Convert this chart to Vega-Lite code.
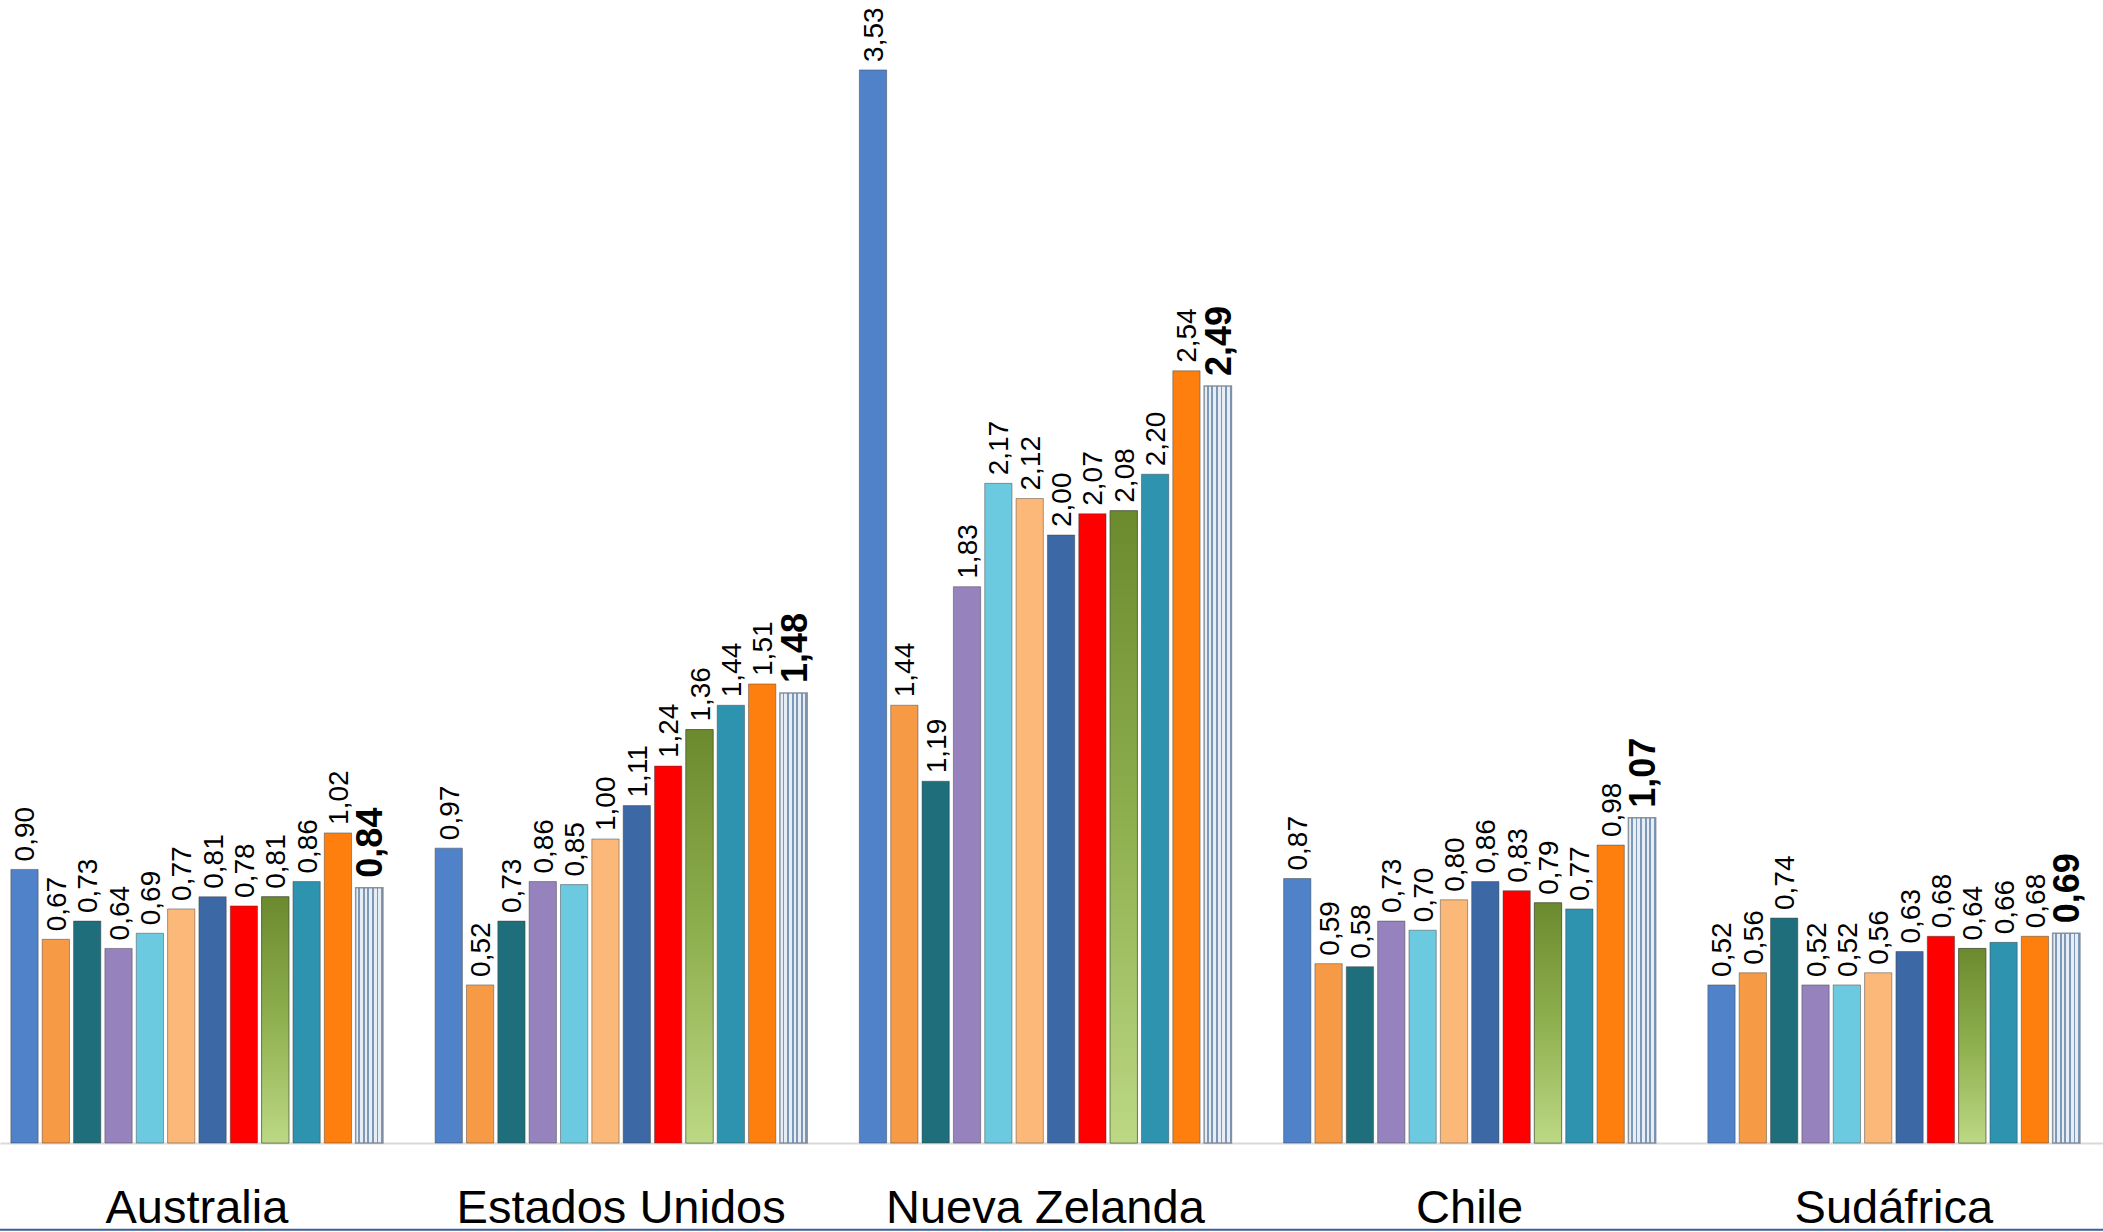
{
  "$schema": "https://vega.github.io/schema/vega-lite/v6.json",
  "width": 2103,
  "height": 1143,
  "autosize": {"type": "none"},
  "padding": {"left": 0, "top": 0, "right": 0, "bottom": 89},
  "background": "white",
  "config": {"view": {"stroke": null}},
  "data": {"values": [
    {"pais": "Australia", "serie": "S01", "valor": 0.90},
    {"pais": "Australia", "serie": "S02", "valor": 0.67},
    {"pais": "Australia", "serie": "S03", "valor": 0.73},
    {"pais": "Australia", "serie": "S04", "valor": 0.64},
    {"pais": "Australia", "serie": "S05", "valor": 0.69},
    {"pais": "Australia", "serie": "S06", "valor": 0.77},
    {"pais": "Australia", "serie": "S07", "valor": 0.81},
    {"pais": "Australia", "serie": "S08", "valor": 0.78},
    {"pais": "Australia", "serie": "S09", "valor": 0.81},
    {"pais": "Australia", "serie": "S10", "valor": 0.86},
    {"pais": "Australia", "serie": "S11", "valor": 1.02},
    {"pais": "Australia", "serie": "S12", "valor": 0.84},
    {"pais": "Estados Unidos", "serie": "S01", "valor": 0.97},
    {"pais": "Estados Unidos", "serie": "S02", "valor": 0.52},
    {"pais": "Estados Unidos", "serie": "S03", "valor": 0.73},
    {"pais": "Estados Unidos", "serie": "S04", "valor": 0.86},
    {"pais": "Estados Unidos", "serie": "S05", "valor": 0.85},
    {"pais": "Estados Unidos", "serie": "S06", "valor": 1.00},
    {"pais": "Estados Unidos", "serie": "S07", "valor": 1.11},
    {"pais": "Estados Unidos", "serie": "S08", "valor": 1.24},
    {"pais": "Estados Unidos", "serie": "S09", "valor": 1.36},
    {"pais": "Estados Unidos", "serie": "S10", "valor": 1.44},
    {"pais": "Estados Unidos", "serie": "S11", "valor": 1.51},
    {"pais": "Estados Unidos", "serie": "S12", "valor": 1.48},
    {"pais": "Nueva Zelanda", "serie": "S01", "valor": 3.53},
    {"pais": "Nueva Zelanda", "serie": "S02", "valor": 1.44},
    {"pais": "Nueva Zelanda", "serie": "S03", "valor": 1.19},
    {"pais": "Nueva Zelanda", "serie": "S04", "valor": 1.83},
    {"pais": "Nueva Zelanda", "serie": "S05", "valor": 2.17},
    {"pais": "Nueva Zelanda", "serie": "S06", "valor": 2.12},
    {"pais": "Nueva Zelanda", "serie": "S07", "valor": 2.00},
    {"pais": "Nueva Zelanda", "serie": "S08", "valor": 2.07},
    {"pais": "Nueva Zelanda", "serie": "S09", "valor": 2.08},
    {"pais": "Nueva Zelanda", "serie": "S10", "valor": 2.20},
    {"pais": "Nueva Zelanda", "serie": "S11", "valor": 2.54},
    {"pais": "Nueva Zelanda", "serie": "S12", "valor": 2.49},
    {"pais": "Chile", "serie": "S01", "valor": 0.87},
    {"pais": "Chile", "serie": "S02", "valor": 0.59},
    {"pais": "Chile", "serie": "S03", "valor": 0.58},
    {"pais": "Chile", "serie": "S04", "valor": 0.73},
    {"pais": "Chile", "serie": "S05", "valor": 0.70},
    {"pais": "Chile", "serie": "S06", "valor": 0.80},
    {"pais": "Chile", "serie": "S07", "valor": 0.86},
    {"pais": "Chile", "serie": "S08", "valor": 0.83},
    {"pais": "Chile", "serie": "S09", "valor": 0.79},
    {"pais": "Chile", "serie": "S10", "valor": 0.77},
    {"pais": "Chile", "serie": "S11", "valor": 0.98},
    {"pais": "Chile", "serie": "S12", "valor": 1.07},
    {"pais": "Sudáfrica", "serie": "S01", "valor": 0.52},
    {"pais": "Sudáfrica", "serie": "S02", "valor": 0.56},
    {"pais": "Sudáfrica", "serie": "S03", "valor": 0.74},
    {"pais": "Sudáfrica", "serie": "S04", "valor": 0.52},
    {"pais": "Sudáfrica", "serie": "S05", "valor": 0.52},
    {"pais": "Sudáfrica", "serie": "S06", "valor": 0.56},
    {"pais": "Sudáfrica", "serie": "S07", "valor": 0.63},
    {"pais": "Sudáfrica", "serie": "S08", "valor": 0.68},
    {"pais": "Sudáfrica", "serie": "S09", "valor": 0.64},
    {"pais": "Sudáfrica", "serie": "S10", "valor": 0.66},
    {"pais": "Sudáfrica", "serie": "S11", "valor": 0.68},
    {"pais": "Sudáfrica", "serie": "S12", "valor": 0.69}
  ]},
  "layer": [
    {
      "transform": [{"calculate": "replace(format(datum.valor, '.2f'), '.', ',')", "as": "etiqueta"}],
      "encoding": {
        "x": {
          "field": "pais", "type": "nominal",
          "scale": {"domain": ["Australia", "Estados Unidos", "Nueva Zelanda", "Chile", "Sudáfrica"], "paddingInner": 0.123, "paddingOuter": 0.04, "align": 0.32},
          "axis": {"title": null, "labelAngle": 0, "labelFontSize": 47, "labelFont": "Liberation Sans", "labelColor": "black", "ticks": false, "tickSize": 0, "labelPadding": 79, "labelBaseline": "alphabetic", "labelLimit": 0, "labelOverlap": false, "domainColor": "#d9d9d9", "domainWidth": 2, "grid": false}
        },
        "xOffset": {
          "field": "serie", "type": "nominal",
          "scale": {"domain": ["S01","S02","S03","S04","S05","S06","S07","S08","S09","S10","S11","S12"], "paddingInner": 0.13, "paddingOuter": 0}
        },
        "y": {"field": "valor", "type": "quantitative", "scale": {"domain": [0, 3.76], "nice": false, "zero": true}, "axis": null}
      },
      "layer": [
        {
          "transform": [{"filter": "datum.serie !== 'S12'"}],
          "mark": {"type": "bar", "stroke": "#3a3a3a", "strokeOpacity": 0.45, "strokeWidth": 1},
          "encoding": {
            "color": {
              "field": "serie", "type": "nominal", "legend": null,
              "scale": {"domain": ["S01","S02","S03","S04","S05","S06","S07","S08","S09","S10","S11"],
                        "range": ["#4f82c8","#f79a46","#1f6e7c","#9682bc","#6ccae0","#fbb878","#3c68a6","#ff0000","#86a64a","#2e93ae","#ff7f0e"]}
            }
          }
        },
        {
          "transform": [{"filter": "datum.serie === 'S09'"}],
          "mark": {"type": "bar", "stroke": "#3a3a3a", "strokeOpacity": 0.45, "strokeWidth": 1,
            "fill": {"gradient": "linear", "x1": 0, "y1": 0, "x2": 0, "y2": 1,
              "stops": [{"offset": 0, "color": "#6b8a2e"}, {"offset": 0.5, "color": "#8fb04f"}, {"offset": 1, "color": "#bcd884"}]}}
        },
        {
          "transform": [{"filter": "datum.serie === 'S12'"}],
          "mark": {"type": "bar", "stroke": "#7d8896", "strokeOpacity": 0.9, "strokeWidth": 1.5,
            "fill": {"gradient": "linear", "x1": 0, "y1": 0, "x2": 1, "y2": 0,
              "stops": [
                {"offset": 0, "color": "#e6edf5"}, {"offset": 0.1, "color": "#e6edf5"},
                {"offset": 0.1, "color": "#7e98b8"}, {"offset": 0.167, "color": "#7e98b8"},
                {"offset": 0.167, "color": "#e6edf5"}, {"offset": 0.267, "color": "#e6edf5"},
                {"offset": 0.267, "color": "#7e98b8"}, {"offset": 0.333, "color": "#7e98b8"},
                {"offset": 0.333, "color": "#e6edf5"}, {"offset": 0.433, "color": "#e6edf5"},
                {"offset": 0.433, "color": "#7e98b8"}, {"offset": 0.5, "color": "#7e98b8"},
                {"offset": 0.5, "color": "#e6edf5"}, {"offset": 0.6, "color": "#e6edf5"},
                {"offset": 0.6, "color": "#7e98b8"}, {"offset": 0.667, "color": "#7e98b8"},
                {"offset": 0.667, "color": "#e6edf5"}, {"offset": 0.767, "color": "#e6edf5"},
                {"offset": 0.767, "color": "#7e98b8"}, {"offset": 0.833, "color": "#7e98b8"},
                {"offset": 0.833, "color": "#e6edf5"}, {"offset": 0.933, "color": "#e6edf5"},
                {"offset": 0.933, "color": "#7e98b8"}, {"offset": 1, "color": "#7e98b8"}
              ]}}
        },
        {
          "transform": [{"filter": "datum.serie !== 'S12'"}],
          "mark": {"type": "text", "angle": 270, "align": "left", "baseline": "middle", "dx": 8, "dy": 2, "font": "Liberation Sans", "fontSize": 28, "color": "black"},
          "encoding": {"text": {"field": "etiqueta", "type": "nominal"}}
        },
        {
          "transform": [{"filter": "datum.serie === 'S12'"}],
          "mark": {"type": "text", "angle": 270, "align": "left", "baseline": "middle", "dx": 10, "dy": 2, "font": "Liberation Sans", "fontSize": 36, "fontWeight": "bold", "color": "black"},
          "encoding": {"text": {"field": "etiqueta", "type": "nominal"}}
        }
      ]
    },
    {
      "data": {"values": [{"linea": "base"}]},
      "mark": {"type": "rule", "color": "#3d5f99", "strokeWidth": 2},
      "encoding": {"y": {"datum": -0.285, "type": "quantitative", "scale": {"domain": [0, 3.76], "nice": false, "zero": true}}}
    }
  ]
}
